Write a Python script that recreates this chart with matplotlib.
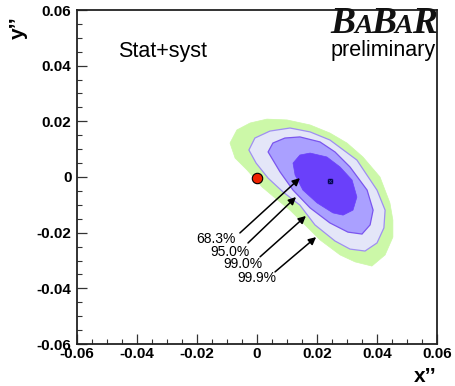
import matplotlib
matplotlib.use("Agg")
import matplotlib.pyplot as plt
from matplotlib.ticker import MultipleLocator, FixedLocator
from matplotlib.offsetbox import TextArea, HPacker, AnchoredOffsetbox

# ---- data ----
c999_x = [-0.0090, -0.0067, -0.0023, 0.0033, 0.0100, 0.0177, 0.0243, 0.0300, 0.0353, 0.0410,
          0.0443, 0.0453, 0.0453, 0.0427, 0.0383, 0.0327, 0.0277, 0.0210, 0.0160, 0.0110,
          0.0060, 0.0017, -0.0033, -0.0073]
c999_y = [0.0122, 0.0169, 0.0194, 0.0208, 0.0205, 0.0187, 0.0158, 0.0122, 0.0072, 0.0000,
          -0.0093, -0.0155, -0.0216, -0.0280, -0.0320, -0.0305, -0.0280, -0.0226, -0.0172, -0.0119,
          -0.0075, -0.0036, 0.0025, 0.0068]

c990_x = [-0.0027, -0.0007, 0.0043, 0.0110, 0.0177, 0.0243, 0.0333, 0.0400, 0.0427, 0.0423,
          0.0400, 0.0360, 0.0310, 0.0260, 0.0193, 0.0143, 0.0087, 0.0037, -0.0003]
c990_y = [0.0097, 0.0140, 0.0165, 0.0176, 0.0162, 0.0133, 0.0061, -0.0047, -0.0119, -0.0183,
          -0.0237, -0.0266, -0.0259, -0.0230, -0.0172, -0.0101, -0.0054, -0.0004, 0.0050]

c950_x = [0.0037, 0.0053, 0.0093, 0.0143, 0.0210, 0.0260, 0.0310, 0.0367, 0.0387, 0.0377,
          0.0350, 0.0303, 0.0243, 0.0177, 0.0120, 0.0077]
c950_y = [0.0090, 0.0122, 0.0140, 0.0144, 0.0126, 0.0090, 0.0036, -0.0047, -0.0119, -0.0172,
          -0.0205, -0.0198, -0.0165, -0.0111, -0.0047, 0.0018]

c683_x = [0.0120, 0.0143, 0.0177, 0.0233, 0.0277, 0.0317, 0.0333, 0.0320, 0.0287, 0.0253,
          0.0200, 0.0153, 0.0127]
c683_y = [0.0050, 0.0079, 0.0086, 0.0072, 0.0036, -0.0011, -0.0072, -0.0119, -0.0137, -0.0129,
          -0.0093, -0.0047, 0.0007]

best_fit = (0.0243, -0.0014)
no_mixing = (0.0, -0.0005)

cl_labels = ["68.3%", "95.0%", "99.0%", "99.9%"]
arrow_tip_x = [0.0143, 0.0130, 0.0163, 0.0197]
arrow_tip_y = [-0.0004, -0.0072, -0.0140, -0.0216]
arrow_tail_x = [-0.0057, -0.0030, 0.0010, 0.0060]
arrow_tail_y = [-0.0201, -0.0237, -0.0287, -0.0341]
label_x = [-0.0137, -0.0090, -0.0047, 0.0000]
label_y = [-0.0223, -0.0269, -0.0313, -0.0363]

ticks = [-0.06, -0.04, -0.02, 0, 0.02, 0.04, 0.06]
tick_labels = ["-0.06", "-0.04", "-0.02", "0", "0.02", "0.04", "0.06"]

# ---- figure ----
plt.rcParams['font.family'] = ['Liberation Sans', 'DejaVu Sans']
fig = plt.figure(figsize=(4.55, 3.86), dpi=100)
ax = fig.add_axes([77/455, 1-344/386, 360/455, 334/386])

ax.fill(c999_x, c999_y, facecolor='#ccf8a8', edgecolor='#ccf8a8', lw=0.5, zorder=1)
ax.fill(c990_x, c990_y, facecolor='#e4e6f8', edgecolor='#9f8ff2', lw=0.9, zorder=2)
ax.fill(c950_x, c950_y, facecolor='#aaa0ff', edgecolor='#7a55ee', lw=0.9, zorder=3)
ax.fill(c683_x, c683_y, facecolor='#6a40fa', edgecolor='#6a40fa', lw=0.5, zorder=4)

ax.plot([best_fit[0]], [best_fit[1]], marker='s', ms=3.5, color='#000044', zorder=6)
ax.plot([best_fit[0]], [best_fit[1]], marker='x', ms=3.5, color='#3333aa', mew=0.6, zorder=7)
ax.plot([no_mixing[0]], [no_mixing[1]], marker='o', ms=7.5, mfc='#ee2200', mec='black', mew=0.8, zorder=6)

for lab, tx, ty, sx, sy, lx, ly in zip(cl_labels, arrow_tip_x, arrow_tip_y,
                                       arrow_tail_x, arrow_tail_y, label_x, label_y):
    ax.annotate('', xy=(tx, ty), xytext=(sx, sy),
                arrowprops=dict(arrowstyle='-|>', color='black', lw=1.1,
                                mutation_scale=11, shrinkA=0, shrinkB=0), zorder=8)
    ax.text(lx, ly, lab, fontsize=10, ha='center', va='center', zorder=9)

ax.set_xlim(-0.06, 0.06)
ax.set_ylim(-0.06, 0.06)
ax.xaxis.set_major_locator(FixedLocator(ticks))
ax.yaxis.set_major_locator(FixedLocator(ticks))
ax.set_xticklabels(tick_labels)
ax.set_yticklabels(tick_labels)
ax.xaxis.set_minor_locator(MultipleLocator(0.005))
ax.yaxis.set_minor_locator(MultipleLocator(0.005))
ax.tick_params(which='both', direction='in', top=False, right=False, color='#333333')
ax.tick_params(which='major', length=7, width=0.9, labelsize=11, pad=2)
ax.tick_params(axis='y', which='major', pad=4)
ax.tick_params(which='minor', length=3.5, width=0.8)
for lbl in ax.get_xticklabels() + ax.get_yticklabels():
    lbl.set_fontweight('bold')
for sp in ax.spines.values():
    sp.set_linewidth(1.3)
    sp.set_color('#222222')

fig.text(425/455, 1-377/386, 'x’’', fontsize=15, fontweight='bold', ha='center', va='center')
fig.text(18/455, 1-28/386, 'y’’', fontsize=15, fontweight='bold', ha='center', va='center', rotation=90)

ax.text(0.115, 0.875, 'Stat+syst', transform=ax.transAxes, fontsize=15.5, ha='left', va='center')
ax.text(0.995, 0.88, 'preliminary', transform=ax.transAxes, fontsize=15.5, ha='right', va='center')

# BaBar logo with small-caps A
parts = []
for ch, fs in [('B', 27), ('A', 20), ('B', 27), ('A', 20), ('R', 27)]:
    parts.append(TextArea(ch, textprops=dict(fontsize=fs, fontweight='bold', fontstyle='italic',
                                             family='Liberation Serif', color='#111111')))
box = HPacker(children=parts, align='baseline', pad=0, sep=-1)
anc = AnchoredOffsetbox(loc='upper right', child=box, pad=0, borderpad=0, frameon=False,
                        bbox_to_anchor=(437/455, 1-6/386), bbox_transform=fig.transFigure)
ax.add_artist(anc)

fig.savefig('out.png', dpi=100)
